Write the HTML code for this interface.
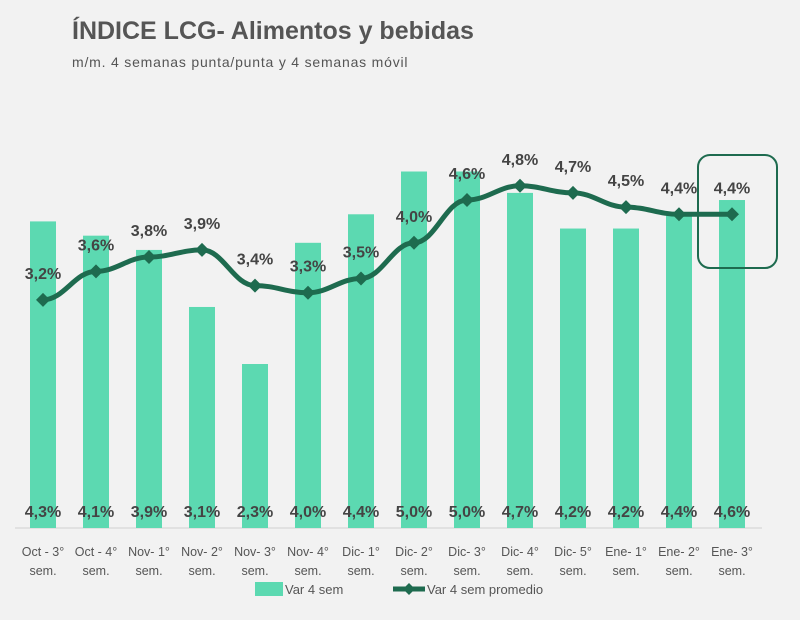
<!DOCTYPE html>
<html><head><meta charset="utf-8"><style>
body{margin:0;background:#f2f2f2;font-family:"Liberation Sans",sans-serif}
</style></head><body>
<svg width="800" height="615" viewBox="0 0 800 615" xmlns="http://www.w3.org/2000/svg">
<rect width="800" height="615" fill="#f2f2f2"/>
<text x="72" y="39" font-size="25" font-weight="bold" fill="#555">ÍNDICE LCG- Alimentos y bebidas</text>
<text x="72" y="67" font-size="14" letter-spacing="0.8" fill="#555">m/m. 4 semanas punta/punta y 4 semanas móvil</text>
<line x1="15" y1="528" x2="762" y2="528" stroke="#d0d0d0" stroke-width="1"/>
<g id="bars"></g><g id="line"></g><g id="labels"></g>
<rect x="698" y="155" width="79" height="113" rx="12" fill="none" stroke="#1e6b4f" stroke-width="2"/>
<rect x="255" y="582" width="28" height="14" fill="#5cd9b1"/>
<text x="285" y="594" font-size="13" fill="#555">Var 4 sem</text>
<line x1="393" y1="589" x2="425" y2="589" stroke="#1e6b4f" stroke-width="5"/>
<path d="M409 583 L415 589 L409 595 L403 589Z" fill="#1e6b4f"/>
<text x="427" y="594" font-size="13" fill="#555">Var 4 sem promedio</text>
</svg>
<script>
const cats1=["Oct - 3°","Oct - 4°","Nov- 1°","Nov- 2°","Nov- 3°","Nov- 4°","Dic- 1°","Dic- 2°","Dic- 3°","Dic- 4°","Dic- 5°","Ene- 1°","Ene- 2°","Ene- 3°"];
const barVals=[4.3,4.1,3.9,3.1,2.3,4.0,4.4,5.0,5.0,4.7,4.2,4.2,4.4,4.6];
const lineVals=[3.2,3.6,3.8,3.9,3.4,3.3,3.5,4.0,4.6,4.8,4.7,4.5,4.4,4.4];
const NS="http://www.w3.org/2000/svg";
const x=i=>43+i*53.0;
const y=v=>528-71.3*v;
const fmt=v=>v.toFixed(1).replace('.',',')+'%';
function mk(t,a,p){const e=document.createElementNS(NS,t);for(const k in a)e.setAttribute(k,a[k]);document.getElementById(p).appendChild(e);return e;}
barVals.forEach((v,i)=>{
 const r=mk('rect',{x:x(i)-13,y:y(v),width:26,height:528-y(v),fill:'#5cd9b1'},'bars');
 
 
 const t=mk('text',{x:x(i),y:517,'font-size':16,'font-weight':'bold',fill:'#444','text-anchor':'middle'},'labels');
 t.textContent=fmt(v);
 
 
 const c1=mk('text',{x:x(i),y:556,'font-size':12.5,fill:'#555','text-anchor':'middle'},'labels');
 c1.textContent=cats1[i];
 
 
 const c2=mk('text',{x:x(i),y:575,'font-size':12.5,fill:'#555','text-anchor':'middle'},'labels');
 c2.textContent='sem.';
 
 
});
let d='';
for(let i=0;i<lineVals.length;i++){
 const px=x(i),py=y(lineVals[i]);
 if(i===0)d='M'+px+' '+py;else{const qx=x(i-1),qy=y(lineVals[i-1]),cx=(px-qx)*0.4;d+=` C${qx+cx} ${qy} ${px-cx} ${py} ${px} ${py}`;}
}
const p=mk('path',{d:d,fill:'none',stroke:'#1e6b4f','stroke-width':5,'stroke-linejoin':'round'},'line');


lineVals.forEach((v,i)=>{
 const px=x(i),py=y(v);
 const m=mk('path',{d:`M${px} ${py-7} L${px+7} ${py} L${px} ${py+7} L${px-7} ${py}Z`,fill:'#1e6b4f'},'line');
 
 
 const t=mk('text',{x:px,y:py-21,'font-size':16,'font-weight':'bold',fill:'#444','text-anchor':'middle'},'labels');
 t.textContent=fmt(v);
 
 
});
</script>
</body></html>
